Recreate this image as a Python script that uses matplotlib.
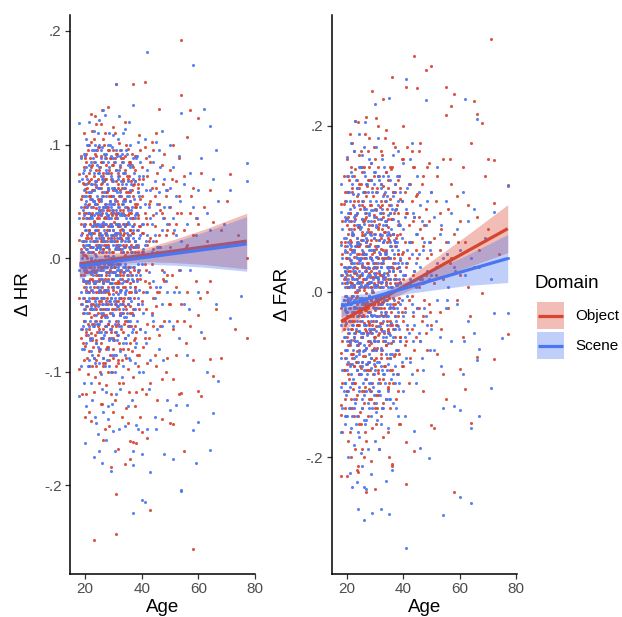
import numpy as np
import matplotlib
matplotlib.use("Agg")
import matplotlib.pyplot as plt
from matplotlib.patches import Rectangle
from matplotlib.lines import Line2D

plt.rcParams['font.family'] = ['Liberation Sans', 'DejaVu Sans']

# ---------------- data (values in thousandths, keyed by age) ----------------
hr_object = {
    18: [74, 16, -98, -35, 40], 19: [-8, 55, -62, 22, -120, 5],
    20: [30, -45, 88, -12, 61, -77, 3, -140], 21: [-20, 47, -5, 95, -58, 18, -102, 66, -30],
    22: [10, -66, 38, -14, 80, -40, 127, -143, 52, -2], 23: [-25, 60, -88, 15, 105, -50, 33, -10, -248, 72, -118],
    24: [44, -30, 8, -72, 90, -15, 25, -55, 118, -95, 63], 25: [-5, 35, -62, 78, -20, 12, -110, 50, -40, 98, -80, 20],
    26: [15, -35, 58, -8, 130, -70, 40, -25, 85, -128, 5, -50, 66], 27: [-18, 48, -92, 22, -45, 70, 2, -60, 110, -30, 36, -150, 91],
    28: [28, -12, 62, -78, 10, -40, 95, -25, 45, -100, 133, -58, 18], 29: [-35, 18, 75, -8, -65, 40, -120, 55, -22, 88, 0, -184, 30],
    30: [5, -50, 82, -28, 42, -88, 25, -12, 115, -70, 60, -135], 31: [-15, 38, -60, 92, 12, -38, 68, -243, -208, -95, 20, 153],
    32: [30, -22, 55, -75, 8, 101, -45, 72, -110, -5], 33: [-40, 16, 85, -18, 48, -90, 26, -140, 62],
    34: [10, -55, 38, -25, 120, -70, 3, 52, -181, 78], 35: [-8, 44, -35, 70, -98, 20, 96, -60, -145],
    36: [25, -42, 58, -12, -161, 83, -177, -75], 37: [-20, 35, 153, -50, 10, 64, -162, -105],
    38: [12, -65, 45, -30, 90, -163, -118], 39: [-45, 28, 70, -10, 108, -85],
    40: [5, -38, 55, -115, 80, -153, 22], 41: [155, -20, 40, -70, 98, -5],
    42: [30, -58, 72, -158, 12, -92], 43: [-25, 50, -222, 18, 85, -110],
    44: [8, -60, 38, 95, -35], 45: [-42, 62, 15, -95, 110], 46: [20, -30, 131, -68, 48],
    47: [-10, 82, -142, -106, 40], 48: [35, -55, 92, -20], 49: [-15, 60, -88, 25],
    50: [45, -145, 10, -40, 78], 51: [-146, 22, -62, 100, -106], 52: [30, -25, 68, -85],
    53: [-10, 55, 88, -120], 54: [192, 144, -119, 5, -40, 40], 55: [-170, 25, 72, -55],
    56: [107, -30, 12], 57: [130, -60, 40], 58: [-256, 20, -90, 62], 59: [35, -20],
    60: [123, -117, -50, 30], 61: [-121, 8, 75], 62: [-70, 45], 63: [15, -30],
    64: [-89, 60, -20], 65: [-104, 32], 66: [10, -45], 68: [-88, 25], 70: [50],
    71: [74], 73: [-62], 74: [20], 77: [0, -70],
}
hr_object_half = {
    18.5: [52, -15, 90, -70, 8, -40, 30], 19.5: [-25, 65, -5, 40, -90, 15, -55, 110],
    20.5: [18, -38, 72, -10, 45, -65, 2, -120, 85, -28], 21.5: [-8, 55, -48, 25, 100, -82, 12, -20, 68, -135, 35],
    22.5: [40, -18, 5, -58, 82, -35, 60, -95, 22, -5, 112, -72], 23.5: [-12, 48, -68, 30, -2, 92, -42, 15, -105, 65, -22, 125],
    24.5: [25, -48, 70, -15, 10, -85, 52, -30, 98, -60, 38, -5], 25.5: [-30, 15, 85, -52, 42, -10, 118, -75, 28, -38, 62, -128],
    26.5: [8, -62, 45, -22, 75, -95, 30, -8, 105, -45, 18, -160], 27.5: [35, -28, 58, -80, 12, -50, 88, -15, 22, -112, 70, -38],
    28.5: [-5, 42, -70, 25, -32, 95, -12, 55, -90, 8, -148, 78], 29.5: [20, -45, 68, -18, 38, -100, 5, 82, -60, 28, -25],
    30.5: [-22, 52, -8, 88, -65, 15, -40, 110, -125, 35], 31.5: [12, -58, 40, -20, 75, -92, 28, -5, 62, -168],
    32.5: [-35, 25, 95, -48, 8, 55, -80, 18, -12], 33.5: [42, -15, -65, 70, 20, -110, 5, -38, 88],
    34.5: [-20, 58, -45, 30, -88, 12, 100, -132], 35.5: [15, -30, 72, -60, 40, -8, -118, 85],
    36.5: [-48, 22, 60, -15, 92, -82, 35], 37.5: [5, -70, 48, -25, 78, -130, 15],
    38.5: [38, -40, 10, -95, 65, -12], 39.5: [-18, 52, -62, 28, 95, -140],
    40.5: [22, -30, 70, -78, 5], 41.5: [-45, 35, -10, 88, -120], 42.5: [48, -22, -70, 15],
    43.5: [-5, 62, -48, 102], 44.5: [28, -85, 55], 45.5: [-30, 75, 5, -125], 46.5: [42, -60, 10],
    47.5: [-18, 65], 48.5: [20, -100, 55], 49.5: [-40, 30], 50.5: [70, -15], 52.5: [-55, 40],
    55.5: [10, -75], 57.5: [55], 60.5: [-35],
}
hr_object_core = {
    19.25: [12, -48, 66, -20, 35, -75, 3], 19.75: [-35, 28, -8, 80, -55, 45, -15],
    20.25: [40, -22, 58, -68, 8, -38, 92], 20.75: [-12, 62, -42, 20, -88, 35, 0],
    21.25: [25, -30, 75, -5, -62, 48, -95], 21.75: [-45, 10, 55, -18, 88, -70, 30],
    22.25: [18, -52, 38, -8, 70, -28, 102], 22.75: [-20, 45, -78, 15, 60, -40, 5],
    23.25: [32, -12, 85, -58, 22, -35, 50], 23.75: [-5, 68, -45, 28, -90, 12, 78],
    24.25: [48, -25, 15, -65, 95, -10, 35], 24.75: [-38, 22, 62, -82, 5, 42, -18],
    25.25: [10, -55, 80, -28, 52, -8, -100], 25.75: [-15, 38, -70, 18, 90, -45, 65],
    26.25: [55, -20, 28, -92, 8, 72, -35], 26.75: [-28, 12, 68, -50, 35, -5, 100],
    27.25: [20, -65, 45, -12, 82, -40, 5], 27.75: [-8, 58, -35, 25, -78, 42, 15],
    28.25: [38, -18, 75, -58, 12, -30, 60], 28.75: [-48, 30, -10, 88, -22, 50, -85],
    29.25: [15, -40, 55, -5, 70, -62, 28], 29.75: [-25, 48, -80, 20, 95, -12, 40],
    30.25: [32, -8, 62, -45, 18, -72, 85], 30.75: [-15, 40, -30, 78, -55, 8, 22],
    31.25: [50, -22, 15, -68, 35, 92, -42], 31.75: [-5, 65, -38, 28, -90, 48, 10],
    32.25: [22, -50, 80, -15, 42, -28, 60], 32.75: [-35, 18, -62, 55, 5, 88, -10],
    33.25: [40, -25, 68, -48, 12, -80, 30], 33.75: [-12, 52, -35, 22, 75, -58],
    34.25: [28, -42, 62, -8, 90, -70], 34.75: [-20, 45, 5, -55, 72, 30],
    35.25: [38, -15, 58, -80, 18, -40], 35.75: [-48, 25, 85, -22, 50, 8],
    36.25: [12, -60, 40, -30, 68], 36.75: [-8, 55, -45, 80, 22],
    37.25: [30, -35, 65, -10, -72], 37.75: [-25, 45, 10, -60, 90],
    38.25: [48, -18, 25, -85], 38.75: [-40, 62, 5, 35],
}
hr_scene = {
    18: [119, -121, 35, -10, 68], 19: [70, -40, 15, -80, 0],
    20: [-163, 25, -55, 90, -20, 48], 21: [12, -68, 100, -30, 40, -95, 5],
    22: [-12, 58, -45, 85, -110, 22, 0, 37], 23: [-175, 30, -60, 75, -22, 112, -5, -88, 50],
    24: [-145, 18, -35, 64, -75, 95, 8, -50, 40], 25: [-170, 42, -15, 80, -58, 122, 10, -92, 28, -30],
    26: [-180, 5, 55, -40, 98, -70, 20, -18, 70, -115], 27: [30, -52, 88, -8, 45, -95, 15, -28, 126, -65],
    28: [-142, 62, -20, 38, -80, 100, 2, -45, 75, -130], 29: [-187, 20, -62, 48, -12, 90, -100, 35, -35],
    30: [-152, 12, 68, -25, 108, -72, 40, -5, 55], 31: [153, -40, 22, -85, 60, -15, 95, -120, 30],
    32: [-150, 45, -10, 78, -60, 18, 125, -35], 33: [8, -48, 65, -22, 92, -105, 38],
    34: [-148, 28, -70, 50, -8, 114, -30], 35: [15, -55, 82, -18, 42, -130],
    36: [-35, 60, -90, 20, 100, -8], 37: [135, -182, -170, -224, 25, -50, 70],
    38: [-147, 40, -15, 88, -75, 10], 39: [55, -28, -100, 18, 72],
    40: [-213, -172, 30, -40, 65, -5], 41: [-215, 48, -65, 105, 12],
    42: [181, -150, 20, -30, 78], 43: [-188, 35, -90, 60], 44: [-20, 85, -55, 15],
    45: [-150, 40, 102, -25], 46: [58, -80, 10, 95], 47: [-40, 25, 112, -60],
    48: [-172, 70, -12, 45], 49: [-125, 30, -30], 50: [-134, 62, 5, 100],
    51: [-177, -60, 35, 80], 52: [-129, 20, 55], 53: [-30, 90, -70],
    54: [128, -204, -205, 15], 55: [-40, 65], 56: [-129, 30, -85], 57: [75, -10],
    58: [170, -151, 45], 59: [-180, 20], 60: [-144, 60, -30], 61: [88, -65],
    62: [131, 10], 63: [40, -100], 64: [116, -169, 25], 65: [-136, 70],
    66: [-40, 95], 67: [-108, 50], 69: [30], 71: [-53, 60], 75: [-33], 77: [84, 68],
}
hr_scene_half = {
    18.5: [-30, 45, 5, -62, 88, 20, -95], 19.5: [30, -20, 78, -48, 10, -110, 55, -8],
    20.5: [-42, 15, 65, -25, 105, -75, 35, -5, 50, -130], 21.5: [22, -38, 58, -12, 82, -60, 5, -95, 40, -22, 120],
    22.5: [-28, 35, -70, 10, 95, -45, 65, -10, -125, 28, 52, -85], 23.5: [15, -55, 48, -20, 85, -92, 25, 4, -38, 68, -140, 100],
    24.5: [-8, 62, -42, 30, -78, 110, 12, -25, 75, -58, 40, -155], 25.5: [38, -18, 72, -65, 20, -35, 95, -2, 50, -102, 28, -48],
    26.5: [-22, 45, -88, 15, 68, -40, 130, -10, 32, -70, 85, -135], 27.5: [10, -60, 55, -28, 92, -8, 40, -118, 22, -45, 75, -160],
    28.5: [-38, 25, 80, -15, 48, -72, 110, 5, -55, 35, -95], 29.5: [28, -22, 62, -85, 15, -48, 98, -5, 42, -128, 70],
    30.5: [-12, 50, -58, 22, 85, -35, 8, -100, 60, -170], 31.5: [40, -25, 72, -68, 12, -42, 105, -8, 30],
    32.5: [-5, 58, -30, 90, -82, 20, -50, 38, -115], 33.5: [25, -40, 75, -12, 48, -95, 5, 110],
    34.5: [-52, 18, 65, -28, 95, -75, 35, -10], 35.5: [10, -35, 55, -88, 30, 120, -60],
    36.5: [-18, 45, -65, 82, 5, -125, 28], 37.5: [38, -28, 68, -92, 15, -45],
    38.5: [-5, 58, -40, 25, 102, -150], 39.5: [20, -62, 45, -15, 85],
    40.5: [-48, 30, 72, -100, 8], 41.5: [15, -30, 60, -75], 42.5: [-12, 45, -115, 90],
    43.5: [30, -50, 5], 44.5: [-35, 68, 20, -140], 45.5: [10, -62, 48], 46.5: [-25, 80],
    47.5: [35, -90, 5], 48.5: [-20, 60], 49.5: [45, -55], 51.5: [-30, 25], 53.5: [50, -10],
    56.5: [-45], 59.5: [35],
}
hr_scene_core = {
    19.25: [-18, 42, -60, 15, 75, -35, 5], 19.75: [28, -45, 60, -10, -80, 38, 92],
    20.25: [-30, 12, 55, -62, 25, -8, 80], 20.75: [45, -20, 70, -48, 8, 100, -38],
    21.25: [-5, 58, -35, 22, -90, 40, 12], 21.75: [35, -55, 15, 78, -25, 52, -72],
    22.25: [-42, 20, 65, -12, 45, -82, 5], 22.75: [10, -30, 88, -60, 28, 50, -15],
    23.25: [-22, 60, -45, 15, 95, -8, 38], 23.75: [48, -12, 25, -75, 68, -40, 2],
    24.25: [-35, 30, 82, -20, 10, -58, 55], 24.75: [18, -65, 45, -2, 75, -28, 100],
    25.25: [-10, 40, -80, 62, 22, -45, 8], 25.75: [52, -25, 12, -55, 88, 30, -15],
    26.25: [-48, 18, 70, -30, 42, -88, 5], 26.75: [25, -8, 58, -68, 15, 92, -35],
    27.25: [-20, 48, -40, 30, 78, -60, 10], 27.75: [38, -52, 20, -12, 65, -90, 45],
    28.25: [-28, 10, 85, -45, 35, -5, 60], 28.75: [15, -62, 50, -22, 100, -38, 28],
    29.25: [-40, 30, -8, 72, -70, 18, 45], 29.75: [55, -18, 25, -50, 88, 2, -32],
    30.25: [-12, 62, -38, 15, -85, 48, 20], 30.75: [30, -45, 78, -5, 42, -65, 10],
    31.25: [-25, 18, 58, -72, 35, -10, 90], 31.75: [45, -32, 8, 70, -55, 22, -15],
    32.25: [-50, 28, 82, -18, 12, -40, 55], 32.75: [15, -60, 40, -2, 68, -28, 95],
    33.25: [-8, 50, -75, 25, 85, -45], 33.75: [38, -20, 62, -52, 10, 30],
    34.25: [-32, 15, 75, -85, 45, -5], 34.75: [22, -48, 55, -15, 92, 0],
    35.25: [-40, 32, -10, 68, -68, 18], 35.75: [50, -25, 10, -55, 80, 35],
    36.25: [-15, 42, -38, 65, 5], 36.75: [28, -62, 18, -20, 88],
    37.25: [-45, 10, 52, -8, 75], 37.75: [35, -30, 68, -78, 15],
    38.25: [-20, 40, -55, 90], 38.75: [12, -35, 58, -10],
}
far_object = {
    18: [33, -137, -149, -74, 106, -20, 60, -223], 19: [106, -45, 15, -95, 140, -10],
    20: [-223, 80, -30, 40, -120, 5, 160], 21: [190, -60, 25, -15, 95, -170, 52, -88],
    22: [-35, 120, -5, 68, -140, 10, -75, 180], 23: [206, -50, 30, -110, 88, -20, 148, -190, 0],
    24: [205, -210, -218, 55, -65, 12, 110, -40, -150, 78], 25: [-25, 62, -92, 130, 20, -160, 40, -55, 170, -8],
    26: [45, -120, 85, -30, 15, -200, 102, -70, 150, 2], 27: [211, -242, -48, 28, 115, -95, 60, -15, -180, 90],
    28: [10, -85, 135, -38, 72, -130, 22, -5, 185, -60], 29: [242, -40, 80, -110, 18, 125, -70, 45, -165, 0],
    30: [-238, 55, -22, 100, -90, 30, 160, -55, 8, -140], 31: [-12, 75, -125, 40, 140, -60, 15, 200, -98],
    32: [35, -80, 110, -20, 65, -150, 5, 170, -45], 33: [233, -30, 90, -105, 20, 50, -175, 128],
    34: [12, -65, 145, -25, 80, -130, 40, 195], 35: [-50, 105, 25, -110, 62, -8, -200],
    36: [259, -208, -210, 30, 88, -40, 150, -95], 37: [20, -75, 120, -15, 55, 175],
    38: [-30, 95, 45, -120, 10, 135], 39: [70, -55, -160, 25, 112],
    40: [15, -90, 160, 48, -35, 200], 41: [247, -232, -182, 30, 95, -60],
    42: [-10, 80, 130, -110, 40], 43: [60, -45, 170, -5, 110], 44: [284, -193, 25, 90, -70, 150],
    45: [246, 40, -20, 118, -95], 46: [15, 75, -60, 180], 47: [55, -30, 140, -120],
    48: [267, 20, 100, -50], 49: [85, -15, 155], 50: [273, -161, 45, 120, -40],
    51: [-165, 65, 10], 52: [30, 140, -75], 53: [95, -25, 50], 54: [15, 160, -100],
    55: [247, 213, -130, 60], 56: [100, -20], 57: [224, 40, 130], 58: [239, -242, 70],
    59: [-10, 115], 60: [-93, 85, 20], 61: [150, -55], 62: [-118, 60], 63: [105, 5],
    64: [-159, 180], 65: [230, 30], 66: [215, -79, 90], 67: [50], 68: [204, -2],
    69: [140], 70: [160, 75], 71: [305], 72: [159, 107, -81], 74: [45], 77: [129, -51],
}
far_object_half = {
    18.5: [-60, 20, -110, 45, -15, -170, 85], 19.5: [10, -80, 55, -35, 120, -140, -5, 30],
    20.5: [-50, 70, -12, 25, -100, 140, -65, 5, -180, 90], 21.5: [35, -28, 85, -75, 10, -130, 60, -45, 150, -8, -200],
    22.5: [-18, 50, -90, 22, 110, -55, 5, -150, 75, -35, 170, -110], 23.5: [28, -65, 95, -5, 45, -125, 15, -40, 135, -85, 60, -215],
    24.5: [-40, 18, 80, -100, 38, -20, 125, -70, 2, 165, -160, 55], 25.5: [12, -55, 105, -30, 68, -140, 30, -12, 150, -85, 45, -190],
    26.5: [-22, 40, -78, 120, 5, -45, 88, -115, 25, 190, -8, -170], 27.5: [55, -35, 10, -95, 135, -60, 35, -20, 75, -150, 170],
    28.5: [-10, 62, -120, 25, -50, 105, -80, 40, 155, -28, 5, -205], 29.5: [30, -68, 92, -15, 48, -135, 10, 175, -45, 70],
    30.5: [-35, 18, 120, -80, 52, -8, 90, -160, 35, 210], 31.5: [22, -50, 82, -20, 140, -105, 5, 62, -190],
    32.5: [-12, 75, -70, 40, 165, -140, 20, -38, 105], 33.5: [48, -28, 110, -90, 15, 185, -60, 72],
    34.5: [-5, 65, -115, 30, 125, -45, 88, -170], 35.5: [40, -35, 150, -80, 10, 95, -140],
    36.5: [-15, 70, -60, 120, 28, -110, 180], 37.5: [55, -40, 15, 100, -130, 65],
    38.5: [-8, 82, -75, 140, 30, -160], 39.5: [45, -25, 110, -90, 160],
    40.5: [-20, 60, 120, -65, 20], 41.5: [35, -45, 95, 175], 42.5: [10, 130, -80, 60],
    43.5: [-30, 85, 150, 20], 44.5: [50, -55, 115], 45.5: [5, 90, -20, 170], 46.5: [-35, 65, 130],
    47.5: [80, -10], 48.5: [40, 150, -70], 49.5: [-25, 60], 51.5: [110, 20], 53.5: [-45, 75],
    56.5: [35, 160], 59.5: [60], 63.5: [-30],
}
far_object_core = {
    19.25: [-40, 25, -95, 60, -15, 110, -130], 19.75: [15, -70, 88, -25, 40, -150, -5],
    20.25: [-55, 48, -10, 120, -88, 20, -120], 20.75: [30, -35, 75, -105, 5, 135, -60],
    21.25: [-20, 95, -65, 38, -140, 12, 62], 21.75: [50, -80, 18, -45, 125, -5, -110],
    22.25: [-30, 70, -118, 28, -12, 105, -75], 22.75: [8, -58, 140, -90, 42, -25, 80],
    23.25: [-48, 22, 92, -130, 55, -8, -85], 23.75: [35, -15, -72, 115, -40, 65, 0],
    24.25: [-62, 45, 10, -100, 130, -28, 78], 24.75: [20, -90, 58, -35, 100, -145, 5],
    25.25: [-8, 72, -55, 32, -120, 145, -30], 25.75: [48, -28, 110, -78, 15, -50, 85],
    26.25: [-38, 5, 68, -135, 40, -15, 120], 26.75: [25, -68, 95, -22, 55, -105, -2],
    27.25: [-50, 35, -12, 128, -88, 62, 10], 27.75: [12, -40, 80, -118, 28, 150, -65],
    28.25: [-25, 58, -95, 18, 105, -48, 42], 28.75: [40, -10, 72, -62, -130, 135, 5],
    29.25: [-70, 28, 115, -35, 50, -100, 0], 29.75: [18, -55, 85, -15, 140, -82, 35],
    30.25: [-42, 62, -8, 98, -125, 22, -70], 30.75: [30, -30, 125, -68, 8, 55, -140],
    31.25: [-15, 78, -52, 40, 150, -95, 12], 31.75: [45, -38, 102, -110, 20, 68, -5],
    32.25: [-28, 88, -75, 10, 130, -45, 52], 32.75: [35, -12, 60, -135, 95, -60, 18],
    33.25: [-50, 40, 118, -20, 72, -90], 33.75: [8, -65, 85, 145, -30, 50],
    34.25: [-35, 22, 100, -80, 60, -10], 34.75: [42, -48, 135, 15, -118, 78],
    35.25: [-18, 68, -95, 30, 112, -40], 35.75: [55, -25, 88, -62, 5, 148],
    36.25: [-45, 35, 120, -8, 70], 36.75: [15, -78, 95, 40, -20],
    37.25: [-30, 60, -55, 130, 10], 37.75: [28, -40, 105, -100, 68],
    38.25: [-12, 80, 45, -70], 38.75: [38, -55, 125, 12],
}
far_scene = {
    18: [-169, -115, 56, 96, -40, 20, -80, 130], 19: [-10, 65, -120, 30, -55],
    20: [162, -25, 88, -150, 10, -70], 21: [-219, 45, -15, 110, -90, 20],
    22: [-236, 70, -40, 5, 140, -110, 35], 23: [206, -60, 25, -135, 92, -18, 55],
    24: [-262, 12, -85, 118, -30, 60, -170], 25: [40, -50, 150, -100, 8, 78, -20, -195],
    26: [-276, -236, 30, -65, 100, -12, 175, -125], 27: [-238, 65, -40, 15, 130, -88, 45, -155],
    28: [10, -75, 95, -25, 160, -110, 50, -5], 29: [-267, 38, -50, 120, -140, 2, 80, -30],
    30: [227, -95, 20, 70, -20, 145, -60, -180], 31: [15, -42, 105, -120, 55, -8, 185],
    32: [-263, 30, -70, 88, -15, 125, -160], 33: [5, 60, -100, 140, -35, 20],
    34: [-229, 45, -55, 110, -10, 80], 35: [234, -269, -20, 70, -130, 25],
    36: [-216, 50, -75, 100, 5], 37: [15, -45, 130, -110, 60], 38: [-25, 85, -150, 35, 170],
    39: [40, -60, 10, 120], 40: [-30, 75, -120, 20, 155], 41: [257, -310, 35, -80, 100],
    42: [10, -50, 130, 60], 43: [-100, 45, 180, -15], 44: [-168, 25, 90, -40],
    45: [70, -20, 140], 46: [-189, 30, 105, -60], 47: [50, -95, 10], 48: [231, -30, 80],
    49: [-201, 60, 15], 50: [-45, 120, 20], 51: [90, -70], 52: [35, -10, 150],
    53: [-55, 70], 54: [-270, -141, 40], 55: [110, -20], 56: [60, 5], 57: [-60, 95],
    58: [-138, 30], 59: [75, -15], 60: [-248, -143, 50], 61: [-100, 120], 62: [233, 20],
    63: [-35, 85], 64: [-165, -255, 40], 65: [100, -50], 66: [209, -83],
    67: [-150, 30, -69], 69: [65], 71: [-117, 15], 72: [96, -26], 75: [-56], 77: [128, -26, 40],
}
far_scene_half = {
    18.5: [-35, 40, -95, 10, 75, -140, -15], 19.5: [25, -70, 85, -22, 5, -160, 50, -110],
    20.5: [-45, 30, -120, 120, -8, 60, -85, 15, -200, 95], 21.5: [8, -58, 75, -30, 145, -100, 38, -15, -165, 55, 180],
    22.5: [-25, 48, -80, 15, 102, -140, 30, -50, 170, -10, -185, 85], 23.5: [40, -35, 125, -95, 2, 65, -60, 20, -150, 95, -20, -230],
    24.5: [-12, 80, -48, 35, -115, 150, 5, -72, 58, -25, 190, -175], 25.5: [22, -90, 62, -8, 110, -55, 35, -130, 88, -30, 165, -210],
    26.5: [-40, 15, 95, -70, 45, -18, 140, -105, 8, 70, -160, 205], 27.5: [55, -25, -85, 30, 120, -50, 5, 85, -135, 20, -190],
    28.5: [-15, 68, -110, 40, -45, 155, 12, -80, 98, -28, -220], 29.5: [30, -60, 90, -20, 50, -125, 8, 130, -88, 65],
    30.5: [-35, 18, 110, -70, 42, -145, 5, 80, -20, 175], 31.5: [25, -85, 62, -30, 135, -5, -120, 48, -190],
    32.5: [-48, 35, 100, -15, -95, 68, 12, 160, -140], 33.5: [18, -60, 85, -25, 45, -110, 120, -5],
    34.5: [-30, 72, -88, 28, 140, -50, 5, -165], 35.5: [40, -15, 95, -75, 15, -130, 60],
    36.5: [-55, 25, 115, -20, 70, -100, 165], 37.5: [8, -70, 55, -35, 100, -140],
    38.5: [30, -45, 80, -110, 15, 140], 39.5: [-10, 65, -85, 110, 35],
    40.5: [20, -55, 90, -25, -150], 41.5: [-40, 50, 125, -5], 42.5: [60, -85, 15, 160],
    43.5: [-25, 95, -60], 44.5: [35, -110, 70, 5], 45.5: [-50, 45, 120], 46.5: [15, -80, 85],
    47.5: [-20, 60], 48.5: [110, -40, 25], 49.5: [-70, 50], 51.5: [30, -35], 53.5: [80, -90],
    55.5: [-10, 45], 58.5: [25], 61.5: [-60],
}
far_scene_core = {
    19.25: [-55, 18, -110, 48, -20, 90, -150], 19.75: [22, -80, 65, -38, 110, -5, -125],
    20.25: [-30, 55, -95, 12, 140, -60, 28], 20.75: [40, -20, -140, 85, -50, 5, 120],
    21.25: [-62, 30, 100, -10, -115, 58, -35], 21.75: [15, -88, 48, 130, -25, -150, 72],
    22.25: [-40, 68, -5, -105, 25, 118, -70], 22.75: [35, -55, 90, -20, -130, 50, 8],
    23.25: [-12, 42, -78, 135, -45, 15, -160], 23.75: [58, -30, 10, -95, 80, -65, 125],
    24.25: [-48, 25, 105, -120, 40, -8, -75], 24.75: [12, -62, 75, -25, 150, -100, 38],
    25.25: [-35, 88, -15, 50, -140, 20, -85], 25.75: [45, -50, 120, -72, 5, 62, -110],
    26.25: [-20, 30, -95, 82, -40, 145, -155], 26.75: [60, -10, -68, 25, 100, -120, 40],
    27.25: [-52, 72, -30, 8, -100, 130, 18], 27.75: [28, -85, 55, -15, 92, -45, -140],
    28.25: [-8, 40, -120, 110, -60, 20, 70], 28.75: [50, -35, 85, -92, 12, -150, 135],
    29.25: [-45, 15, 98, -70, 35, -18, -115], 29.75: [22, -58, 65, -28, 145, -100, 5],
    30.25: [-30, 78, -48, 28, -135, 100, -10], 30.75: [42, -20, 120, -85, 8, 55, -155],
    31.25: [-60, 35, -5, 88, -110, 18, 140], 31.75: [12, -42, 70, -125, 45, -15, 95],
    32.25: [-25, 95, -68, 30, 130, -90, 5], 32.75: [38, -55, 15, -140, 80, -30, 115],
    33.25: [-10, 62, -100, 22, 150, -48], 33.75: [48, -28, 85, -75, 10, -130],
    34.25: [-40, 30, 115, -15, 68, -95], 34.75: [20, -62, 92, -120, 40, 0],
    35.25: [-52, 55, -20, 135, -80, 15], 35.75: [30, -38, 75, -105, 5, 105],
    36.25: [-18, 88, -60, 25, -135], 36.75: [45, -45, 120, -10, 62],
    37.25: [-30, 15, -90, 98, 35], 37.75: [8, -70, 60, -20, 140],
    38.25: [-42, 50, 110, -100], 38.75: [25, -15, 80, -60],
}

# fitted lines and confidence half-widths
fit_age = [18, 26, 34, 42, 52, 62, 77]
hr_object_fit = [-0.0050, -0.0023, 0.0004, 0.0031, 0.0065, 0.0099, 0.0150]
hr_object_hw = [0.011, 0.0065, 0.0048, 0.0062, 0.0105, 0.0155, 0.0245]
hr_scene_fit = [-0.0070, -0.0044, -0.0017, 0.0009, 0.0042, 0.0075, 0.0125]
hr_scene_hw = [0.011, 0.0065, 0.0048, 0.0062, 0.0105, 0.0155, 0.0240]
far_object_fit = [-0.036, -0.0208, -0.0056, 0.0096, 0.0286, 0.0476, 0.076]
far_object_hw = [0.014, 0.008, 0.0062, 0.008, 0.0135, 0.019, 0.029]
far_scene_fit = [-0.018, -0.0101, -0.0023, 0.0055, 0.0153, 0.0252, 0.040]
far_scene_hw = [0.013, 0.0075, 0.0058, 0.0075, 0.0128, 0.018, 0.029]

domains = ['Object', 'Scene']
RED = '#d7442f'
BLUE = '#4b76f2'


def flatten(*dicts):
    xs, ys = [], []
    for d in dicts:
        for age, vals in d.items():
            for v in vals:
                xs.append(age)
                ys.append(v / 1000.0)
    return np.array(xs), np.array(ys)


W, H = 622, 617
fig = plt.figure(figsize=(W / 100, H / 100), dpi=100)


def make_ax(x0, x1):
    return fig.add_axes([x0 / W, 1 - 574 / H, (x1 - x0) / W, (574 - 15) / H])


axL = make_ax(70, 255.5)
axR = make_ax(331.7, 516.5)

panels = [
    (axL, (hr_object, hr_object_half, hr_object_core), (hr_scene, hr_scene_half, hr_scene_core),
     hr_object_fit, hr_object_hw, hr_scene_fit, hr_scene_hw,
     (-0.278, 0.214), [-0.2, -0.1, 0.0, 0.1, 0.2], ['-.2', '-.1', '.0', '.1', '.2'], 'Δ HR', -0.205),
    (axR, (far_object, far_object_half, far_object_core), (far_scene, far_scene_half, far_scene_core),
     far_object_fit, far_object_hw, far_scene_fit, far_scene_hw,
     (-0.341, 0.334), [-0.2, 0.0, 0.2], ['-.2', '.0', '.2'], 'Δ FAR', -0.22),
]

for (ax, dobj, dsc, fo, ho, fs, hs, ylim, yt, ytl, ylab, lx) in panels:
    xo, yo = flatten(*dobj)
    xs, ys = flatten(*dsc)
    ax.scatter(xo, yo, s=5, color=RED, alpha=0.9, linewidths=0, zorder=2)
    ax.scatter(xs, ys, s=5, color=BLUE, alpha=0.9, linewidths=0, zorder=2)
    fa = np.array(fit_age, dtype=float)
    for fit, hw, c in [(fo, ho, RED), (fs, hs, BLUE)]:
        fit = np.array(fit)
        hw = np.array(hw)
        ax.fill_between(fa, fit - hw, fit + hw, color=c, alpha=0.35, linewidth=0, zorder=3)
        ax.plot(fa, fit, color=c, lw=2.3, zorder=3, solid_capstyle='butt')
    ax.set_xlim(14.7, 80.1)
    ax.set_ylim(*ylim)
    ax.set_xticks([20, 40, 60, 80])
    ax.set_yticks(yt)
    ax.set_yticklabels(ytl)
    for s in ['top', 'right']:
        ax.spines[s].set_visible(False)
    for s in ['left', 'bottom']:
        ax.spines[s].set_linewidth(1.1)
        ax.spines[s].set_color('black')
    ax.tick_params(direction='out', length=3.5, width=0.9, color='#333333',
                   labelcolor='#4d4d4d', labelsize=11, pad=2.5)
    ax.set_ylabel(ylab, fontsize=13.5, color='black')
    ax.yaxis.set_label_coords(lx, 0.5)
    ax.set_xlabel('Age', fontsize=13.5, color='black')
    ax.xaxis.set_label_coords(0.5, -0.045)


# legend drawn by hand in figure pixel coordinates
def fx(px):
    return px / W


def fy(py):
    return 1 - py / H


fig.text(fx(534), fy(283), 'Domain', fontsize=13.5, ha='left', va='center')
for i, (name, c) in enumerate(zip(domains, [RED, BLUE])):
    top = 302 + i * 30
    fig.add_artist(Rectangle((fx(537), fy(top + 27)), fx(27), 27 / H, transform=fig.transFigure,
                             facecolor=c, alpha=0.35, edgecolor='none'))
    fig.add_artist(Line2D([fx(538), fx(563)], [fy(top + 13.5)] * 2, transform=fig.transFigure,
                          color=c, lw=2.3, solid_capstyle='butt'))
    fig.text(fx(575), fy(top + 14), name, fontsize=11, ha='left', va='center')

fig.savefig('out.png', dpi=100)
